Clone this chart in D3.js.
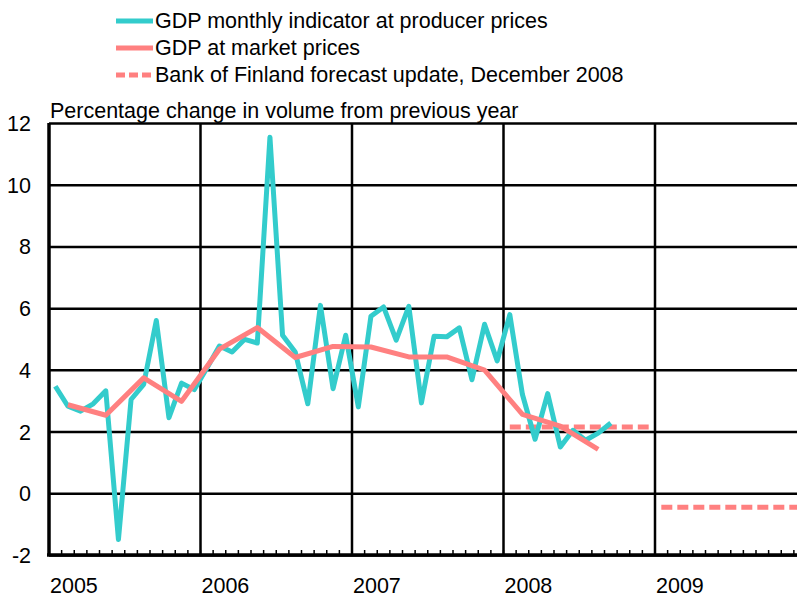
<!DOCTYPE html>
<html lang="en">
<head>
  <meta charset="UTF-8">
  <title>GDP indicator</title>
  <script src="https://d3js.org/d3.v7.min.js"></script>
  <style>
    body { margin: 0; background: #fff; }
    text { font-family: "Liberation Sans", Arial, sans-serif; font-size: 21.5px; fill: #000; }
  </style>
</head>
<body>
  <svg id="svg" width="797" height="598"></svg>
  <script>
    // month index 0 = Jan 2005
    var years = ['2005', '2006', '2007', '2008', '2009']
    var yTicks = [-2, 0, 2, 4, 6, 8, 10, 12]

    // GDP monthly indicator at producer prices, Jan 2005 .. Sep 2008
    var monthly = [3.47, 2.82, 2.66, 2.9, 3.32, -1.5, 3.04, 3.53, 5.6, 2.45, 3.57, 3.36,
      4.05, 4.77, 4.58, 4.99, 4.87, 11.54, 5.12, 4.58, 2.9, 6.09, 3.39, 5.12,
      2.8, 5.74, 6.04, 4.96, 6.06, 2.93, 5.09, 5.07, 5.36, 3.68, 5.48, 4.29,
      5.79, 3.2, 1.75, 3.23, 1.5, 2.04, 1.72, 1.95, 2.28]

    // GDP at market prices, quarterly Q1 2005 .. Q3 2008
    var quarterly = [2.87, 2.53, 3.74, 2.98, 4.67, 5.37, 4.4, 4.76,
      4.74, 4.42, 4.42, 3.99, 2.56, 2.18, 1.42]

    // Bank of Finland forecast update, December 2008 (annual)
    var forecastYears = [3, 4]
    var forecast = [2.15, -0.45]

    var svg = d3.select('svg')
    var x = d3.scaleLinear().domain([0, 60]).range([49, 806.5])
    var y = d3.scaleLinear().domain([-2, 12]).range([555, 123])

    var cyan = '#33cccc'
    var salmon = '#ff8080'

    // horizontal grid
    svg.append('g')
      .attr('transform', 'translate(49,0)')
      .call(d3.axisLeft(y).tickValues(yTicks).tickSize(-760).tickPadding(18).tickFormat(d => String(d)))
      .call(g => g.select('.domain').remove())
      .call(g => g.selectAll('line').attr('stroke', '#000').attr('stroke-width', 2.5))
      .call(g => g.selectAll('text').attr('font-size', 21.5).attr('font-family', 'Liberation Sans, Arial, sans-serif').attr('dy', '0.35em'))

    // vertical year lines
    svg.selectAll('.yl')
      .data(d3.range(0, 61, 12))
      .enter()
      .append('line')
      .attr('x1', d => x(d)).attr('x2', d => x(d))
      .attr('y1', y(12)).attr('y2', y(-2))
      .attr('stroke', '#000')
      .attr('stroke-width', d => d === 0 ? 3.5 : 2.5)

    // month ticks
    svg.selectAll('.mt')
      .data(d3.range(1, 60))
      .enter()
      .append('line')
      .attr('x1', d => x(d)).attr('x2', d => x(d))
      .attr('y1', y(-2)).attr('y2', y(-2) - 5)
      .attr('stroke', '#000')
      .attr('stroke-width', 1.5)

    // bottom axis
    svg.append('line')
      .attr('x1', x(0) - 2).attr('x2', 797)
      .attr('y1', y(-2)).attr('y2', y(-2))
      .attr('stroke', '#000').attr('stroke-width', 3.5)

    // year labels
    svg.selectAll('.yr')
      .data(years)
      .enter()
      .append('text')
      .attr('x', (d, i) => x(i * 12) + 1)
      .attr('y', 593)
      .text(d => d)

    svg.append('text')
      .attr('x', 50).attr('y', 118)
      .text('Percentage change in volume from previous year')

    var line = d3.line().x(d => x(d[0])).y(d => y(d[1]))

    // forecast (dashed)
    forecast.forEach((v, i) => {
      var yr = forecastYears[i]
      svg.append('path')
        .datum([[yr * 12 + 0.5, v], [yr * 12 + 11.5, v]])
        .attr('d', line)
        .attr('fill', 'none')
        .attr('stroke', salmon)
        .attr('stroke-width', 5)
        .attr('stroke-dasharray', '11,5')
    })

    svg.append('path')
      .datum(monthly.map((v, i) => [i + 0.5, v]))
      .attr('d', line)
      .attr('fill', 'none')
      .attr('stroke', cyan)
      .attr('stroke-width', 5)
      .attr('stroke-linejoin', 'round')

    svg.append('path')
      .datum(quarterly.map((v, i) => [i * 3 + 1.5, v]))
      .attr('d', line)
      .attr('fill', 'none')
      .attr('stroke', salmon)
      .attr('stroke-width', 5)
      .attr('stroke-linejoin', 'round')

    // legend
    var legend = [
      { label: 'GDP monthly indicator at producer prices', color: cyan, dash: null },
      { label: 'GDP at market prices', color: salmon, dash: null },
      { label: 'Bank of Finland forecast update, December 2008', color: salmon, dash: '9,4' }
    ]
    var lg = svg.selectAll('.lg')
      .data(legend)
      .enter()
      .append('g')
      .attr('transform', (d, i) => 'translate(116,' + (21 + i * 27) + ')')
    lg.append('line')
      .attr('x1', 0).attr('x2', 37)
      .attr('stroke', d => d.color)
      .attr('stroke-width', 5)
      .attr('stroke-dasharray', d => d.dash)
    lg.append('text')
      .attr('x', 39).attr('y', 7)
      .text(d => d.label)
  </script>
</body>
</html>
